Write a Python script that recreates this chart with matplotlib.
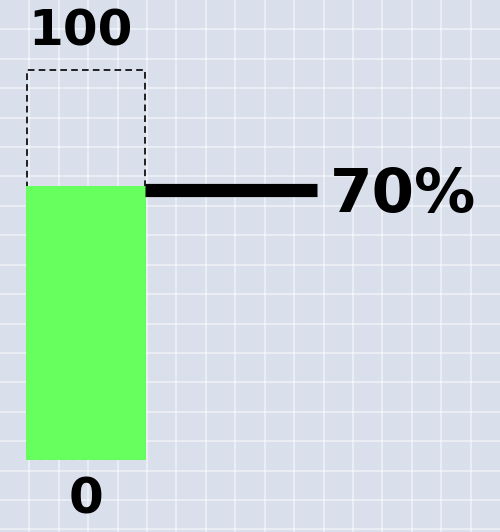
import numpy as np
import matplotlib
matplotlib.use("Agg")
import matplotlib.pyplot as plt
import matplotlib.transforms as mtransforms

# gauge data
value = 70
v_min = 0
v_max = 100
value_label = "70%"
min_label = "0"
max_label = "100"

bg_color = "#d9e0ec"
bar_color = "#66ff5e"


def main():
    fig = plt.figure(figsize=(5.0, 5.32), dpi=100)
    fig.patch.set_facecolor(bg_color)

    # background grid in pixel units
    bg = fig.add_axes([0, 0, 1, 1])
    bg.set_xlim(0, 500)
    bg.set_ylim(532, 0)
    bg.set_facecolor(bg_color)
    step = 500 / 17
    for gx in np.arange(step, 500, step):
        bg.axvline(gx, color="white", lw=1.1, alpha=0.6)
    for gy in np.arange(step, 532, step):
        bg.axhline(gy, color="white", lw=1.1, alpha=0.6)
    bg.axis("off")

    # gauge axes: bar centered at x=0, width 1
    ax = fig.add_axes([0, 0, 1, 1])
    ax.patch.set_alpha(0)
    px_per_x = 118.0
    px_per_y = (459 - 70) / (v_max - v_min)
    cx = 86.0
    ax.set_xlim(-cx / px_per_x, (500 - cx) / px_per_x)
    ax.set_ylim(v_min - (532 - 459) / px_per_y, v_min + 459 / px_per_y)
    ax.axis("off")

    # outline of full range
    ax.bar([0], [v_max - v_min], bottom=v_min, width=1.0, facecolor="none",
           edgecolor="black", lw=1.2, linestyle=(0, (4, 2.5)), zorder=2)
    # filled part, edge in same green so outline is hidden below value
    ax.bar([0], [value - v_min], bottom=v_min, width=1.0, color=bar_color,
           edgecolor=bar_color, lw=1.4, zorder=3)

    # leader line to value label
    off = mtransforms.offset_copy(ax.transData, fig=fig, x=0, y=-2.5, units="points")
    ax.plot([0.5, (317 - cx) / px_per_x], [value, value], color="black",
            lw=9.5, solid_capstyle="butt", transform=off, zorder=4)

    font = dict(family="DejaVu Sans", weight="bold", color="black")
    txt_off = mtransforms.offset_copy(ax.transData, fig=fig, x=0, y=-6, units="points")
    ax.text((330 - cx) / px_per_x, value, value_label, fontsize=44,
            ha="left", va="center", transform=txt_off, **font)
    ax.text((80 - cx) / px_per_x, v_max + 10, max_label, fontsize=36,
            ha="center", va="center", **font)
    ax.text(0, v_min - 10.3, min_label, fontsize=36,
            ha="center", va="center", **font)

    fig.savefig("out.png", dpi=100, facecolor=bg_color)


if __name__ == "__main__":
    main()
